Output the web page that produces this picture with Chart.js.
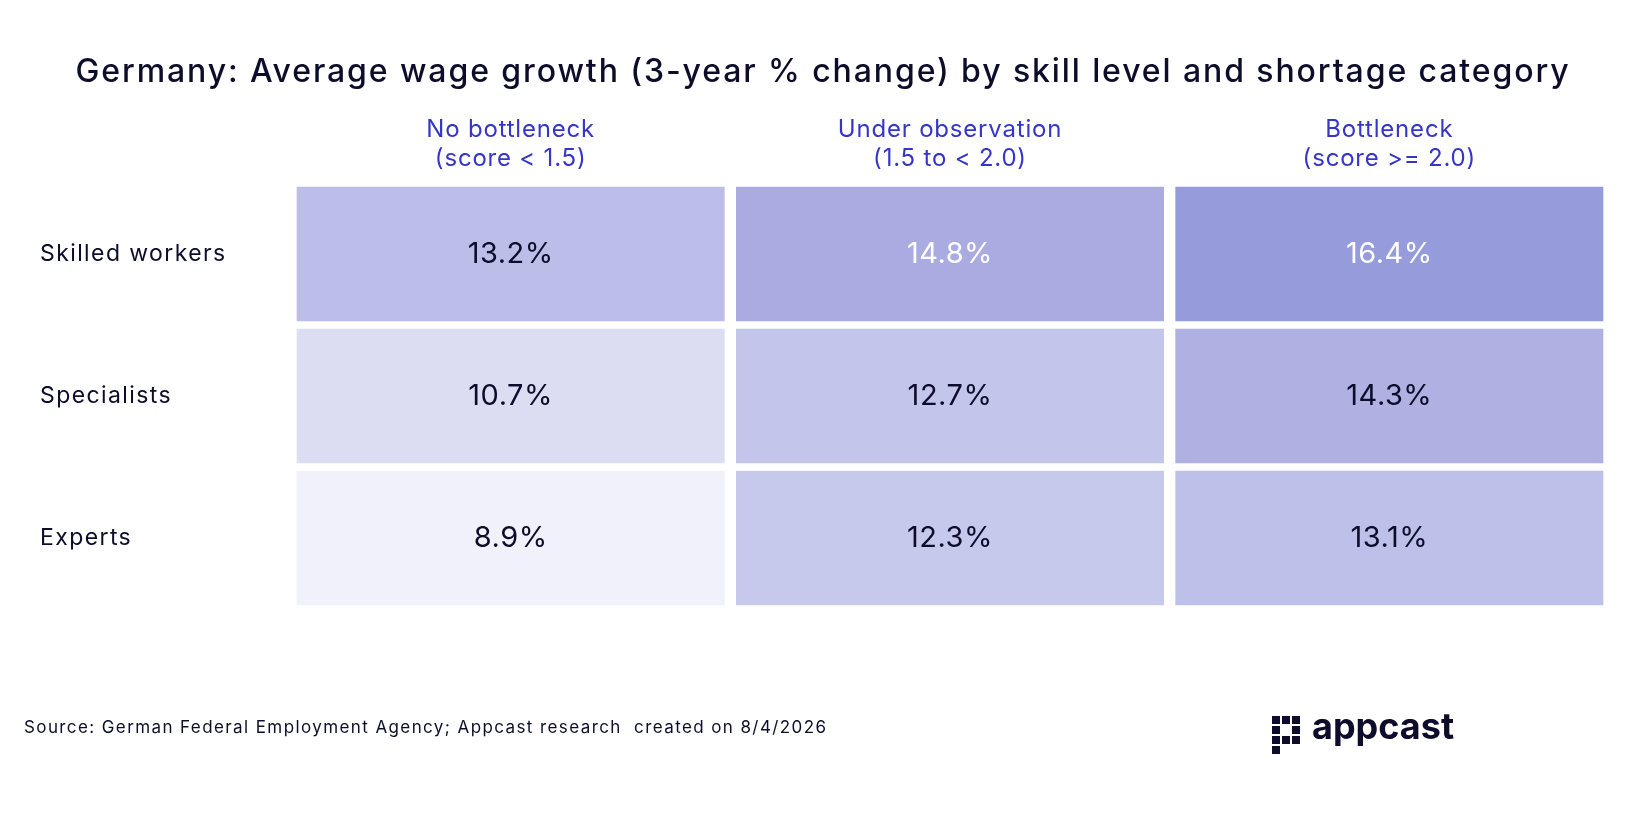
<!DOCTYPE html>
<html>
<head>
<meta charset="utf-8">
<script src="https://cdn.jsdelivr.net/npm/chart.js@4"></script>
<style>
  html, body { margin: 0; padding: 0; background: #fff; }
  #wrap { width: 1647px; height: 834px; position: relative; }
</style>
</head>
<body>
<div id="wrap"><canvas id="myChart"></canvas></div>
<script>
// data
const columns = ['No bottleneck|(score < 1.5)', 'Under observation|(1.5 to < 2.0)', 'Bottleneck|(score >= 2.0)']
const rows = ['Skilled workers', 'Specialists', 'Experts']
const skilledWorkers = [13.2, 14.8, 16.4]
const specialists = [10.7, 12.7, 14.3]
const experts = [8.9, 12.3, 13.1]
const rowValues = [skilledWorkers, specialists, experts]
const cellColors = [
  ['#bcbee9', '#a9abe1', '#959bdb'],
  ['#dcdcf2', '#c4c5eb', '#aeb1e2'],
  ['#f0f1fa', '#c7c9ec', '#bdc0e8']
]

const FONT = 'Inter, "Noto Sans", sans-serif'
const ctx = document.getElementById('myChart')

// text + labels drawn on top of the bars
const overlay = {
  id: 'overlay',
  afterDraw(chart) {
    const c = chart.ctx
    const xs = chart.scales.x, ys = chart.scales.y
    c.save()
    c.textAlign = 'center'
    c.textBaseline = 'middle'
    c.fillStyle = '#0d0d2b'
    c.font = `500 32px ${FONT}`
    c.letterSpacing = '1.9px'
    c.fillText('Germany: Average wage growth (3-year % change) by skill level and shortage category', 823, 72)

    // column headers
    c.fillStyle = '#3535c8'
    c.font = `24px ${FONT}`
    c.letterSpacing = '0.8px'
    columns.forEach((col, j) => {
      const x = xs.getPixelForValue(j)
      col.split('|').forEach((line, k) => c.fillText(line, x, 130 + k * 29))
    })

    // row labels + values
    rowValues.forEach((vals, i) => {
      const y = ys.getPixelForValue(i + 0.5)
      c.textAlign = 'left'
      c.fillStyle = '#0d0d2b'
      c.font = `23px ${FONT}`
      c.letterSpacing = '1.4px'
      c.fillText(rows[i], 40, y)
      c.textAlign = 'center'
      c.font = `29px ${FONT}`
      c.letterSpacing = '0.5px'
      vals.forEach((v, j) => {
        c.fillStyle = v >= 14.5 ? '#ffffff' : '#0d0d2b'
        c.fillText(v.toFixed(1) + '%', xs.getPixelForValue(j), y)
      })
    })

    // footer
    c.textAlign = 'left'
    c.fillStyle = '#0d0d2b'
    c.font = `17px ${FONT}`
    c.letterSpacing = '1.4px'
    c.fillText('Source: German Federal Employment Agency; Appcast research  created on 8/4/2026', 24, 728)

    // logo
    c.letterSpacing = '0px'
    const lx = 1272, ly = 716, s = 8
    const cells = [[0,0],[1,0],[2,0],[0,1],[2,1],[0,2],[1,2],[2,2],[0,3]]
    cells.forEach(([a, b]) => c.fillRect(lx + a * (s + 2), ly + b * (s + 2), s, s))
    c.font = `bold 36px ${FONT}`
    c.fillText('appcast', 1312, 728)
    c.restore()
  }
}

const datasets = rows.map((r, i) => ({
  label: r,
  data: rowValues[i].map(() => 1),
  backgroundColor: cellColors[i],
  borderColor: '#ffffff',
  borderWidth: { left: 6, right: 6, top: 4, bottom: 4 },
  borderSkipped: false,
  categoryPercentage: 1,
  barPercentage: 1
}))

new Chart(ctx, {
  type: 'bar',
  data: { labels: columns, datasets },
  options: {
    responsive: true,
    maintainAspectRatio: false,
    animation: false,
    layout: { padding: { left: 291, right: 38, top: 183, bottom: 225 } },
    plugins: { legend: { display: false }, tooltip: { enabled: false } },
    scales: {
      x: { display: false, stacked: true },
      y: { display: false, stacked: true, min: 0, max: 3, reverse: true }
    }
  },
  plugins: [overlay]
})
</script>
</body>
</html>
